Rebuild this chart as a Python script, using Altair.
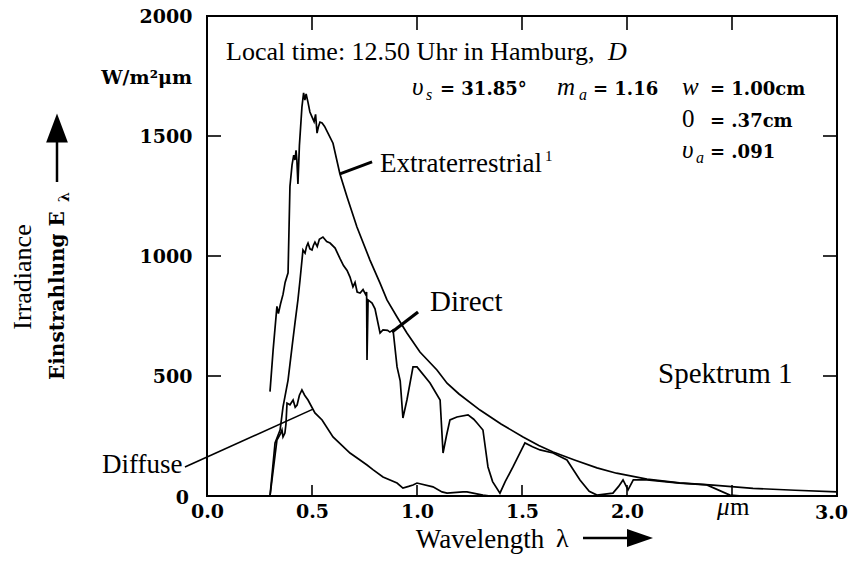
import altair as alt
import pandas as pd

SERIF = "Liberation Serif"
BOLD = "DejaVu Serif"

# ---------------- data ----------------
et_wl = [0.300,0.315,0.333,0.340,0.350,0.362,0.372,0.386,0.395,0.405,
         0.413,0.419,0.424,0.428,0.433,0.440,0.452,0.460,0.466,0.472,
         0.481,0.490,0.500,0.510,0.517,0.524,0.531,0.538,0.548,0.560,
         0.576,0.600,0.633,0.667,0.714,0.776,0.824,0.857,0.905,0.952,
         1.014,1.095,1.143,1.200,1.300,1.400,1.505,1.580,1.648,1.750,
         1.857,1.950,2.095,2.250,2.410,2.600,2.800,3.000]
et_E = [435,610,790,760,800,840,890,930,1290,1380,
        1420,1400,1440,1400,1300,1460,1620,1680,1650,1675,
        1640,1600,1580,1560,1590,1512,1540,1558,1554,1540,
        1512,1470,1342,1246,1121,983,887,817,746,679,
        600,525,470,425,358,300,246,210,183,150,
        117,95,70,55,45,32,24,17]

dir_wl = [0.300,0.324,0.348,0.362,0.386,0.405,0.419,0.433,0.443,0.457,
          0.467,0.474,0.481,0.490,0.500,0.507,0.514,0.525,0.535,0.552,
          0.570,0.586,0.610,0.633,0.650,0.667,0.681,0.695,0.705,0.715,
          0.729,0.743,0.755,0.760,0.762,0.767,0.786,0.800,0.824,0.838,
          0.860,0.871,0.886,0.905,0.920,0.933,0.952,0.981,1.000,1.062,
          1.110,1.124,1.140,1.157,1.190,1.243,1.270,1.286,1.314,1.338,
          1.360,1.395,1.420,1.457,1.514,1.550,1.586,1.648,1.714,1.776,
          1.820,1.857,1.933,1.960,1.981,2.005,2.030,2.095,2.250,2.380,
          2.490,2.550]
dir_E = [0,221,275,371,483,621,721,817,900,1025,
         1012,1040,1054,1030,1025,1045,1058,1040,1070,1079,
         1060,1054,1033,990,960,940,912,871,890,850,
         846,860,840,850,567,817,804,780,679,692,
         690,683,692,538,480,325,400,538,538,471,
         400,179,250,317,329,338,320,304,275,121,
         60,12,60,121,221,205,192,179,150,67,
         20,4,12,40,67,25,67,67,54,46,
         4,0]

dif_wl = [0.300,0.333,0.350,0.357,0.362,0.371,0.376,0.381,0.395,0.410,
          0.420,0.429,0.440,0.452,0.465,0.481,0.514,0.548,0.600,0.681,
          0.720,0.762,0.790,0.838,0.905,0.933,0.960,0.981,1.000,1.076,
          1.119,1.143,1.219,1.238,1.314,1.350]
dif_E = [0,233,260,275,246,262,300,387,380,400,
         370,379,420,442,420,400,346,317,246,179,
         155,129,110,79,54,33,40,46,54,38,
         17,12,17,17,4,0]

# leader lines (wavelength, irradiance)
lead_et_wl = [0.633, 0.786]
lead_et_E = [1342, 1392]
lead_dir_wl = [0.881, 1.005]
lead_dir_E = [683, 767]
lead_dif_wl = [-0.105, 0.505]
lead_dif_E = [121, 362]

x_ticks = [0.5, 1.0, 1.5, 2.0, 2.5]
y_ticks = [500, 1000, 1500]
x_labels = [0.0, 0.5, 1.0, 1.5, 2.0]
y_labels = [500, 1000, 1500, 2000]

W, H = 630, 480

xs = alt.Scale(domain=[0, 3], nice=False, zero=False)
ys = alt.Scale(domain=[0, 2000], nice=False)
xaxis = alt.Axis(values=x_labels, format=".1f",
                 ticks=False, domain=False, grid=False, title=None,
                 labelFont=BOLD, labelFontWeight="bold", labelFontSize=19,
                 labelColor="black", labelPadding=6, labelFlush=False,
                 labelOverlap=False)
yaxis = alt.Axis(values=y_labels, format="d", ticks=False, domain=False,
                 grid=False, title=None, labelFont=BOLD, labelFontWeight="bold",
                 labelFontSize=19, labelColor="black", labelPadding=15,
                 labelOverlap=False)

X = alt.X("wl:Q", scale=xs, axis=xaxis)
Y = alt.Y("E:Q", scale=ys, axis=yaxis)


def series(wl, E, sw=1.7):
    df = pd.DataFrame({"wl": wl, "E": E})
    return alt.Chart(df).mark_line(color="black", strokeWidth=sw).encode(x=X, y=Y)


one = pd.DataFrame({"k": [0]})


def T(s, x, y, size, font=SERIF, style="normal", weight="normal", angle=0,
      align="left", baseline="alphabetic"):
    return alt.Chart(one).mark_text(
        text=s, font=font, fontSize=size, fontStyle=style, fontWeight=weight,
        angle=angle, align=align, baseline=baseline, color="black"
    ).encode(x=alt.value(x), y=alt.value(y))


layers = []
layers.append(series(et_wl, et_E))
layers.append(series(dir_wl, dir_E))
layers.append(series(dif_wl, dif_E))
layers.append(series(lead_et_wl, lead_et_E, 3))
layers.append(series(lead_dir_wl, lead_dir_E, 3.2))
layers.append(series(lead_dif_wl, lead_dif_E, 1.6))

# inward ticks
xt = pd.DataFrame({"wl": x_ticks})
yt = pd.DataFrame({"E": y_ticks})
layers.append(alt.Chart(xt).mark_rule(color="black", strokeWidth=1.6).encode(
    x=X, y=alt.value(0), y2=alt.value(14)))
layers.append(alt.Chart(xt).mark_rule(color="black", strokeWidth=1.6).encode(
    x=X, y=alt.value(H - 11), y2=alt.value(H)))
layers.append(alt.Chart(yt).mark_rule(color="black", strokeWidth=1.6).encode(
    y=Y, x=alt.value(0), x2=alt.value(14)))
layers.append(alt.Chart(yt).mark_rule(color="black", strokeWidth=1.6).encode(
    y=Y, x=alt.value(W - 14), x2=alt.value(W)))

# special axis labels
layers.append(T("0", -18, 482, 19, font=BOLD, weight="bold", align="right",
                baseline="middle"))
layers.append(T("3.0", 641, 503, 19, font=BOLD, weight="bold", align="right"))
layers.append(T("μ", 510, 499, 25, style="italic"))
layers.append(T("m", 523, 499, 25))

# header annotations
layers.append(T("Local time: 12.50 Uhr in Hamburg,", 19, 44, 26))
layers.append(T("D", 401, 44, 26, style="italic"))

layers.append(T("υ", 205, 79, 25, style="italic"))
layers.append(T("s", 219, 84, 16, style="italic"))
layers.append(T("= 31.85°", 233, 79, 18, font=BOLD, weight="bold"))
layers.append(T("m", 350, 79, 25, style="italic"))
layers.append(T("a", 372, 84, 16, style="italic"))
layers.append(T("= 1.16", 386, 79, 18, font=BOLD, weight="bold"))
layers.append(T("w", 475, 79, 25, style="italic"))
layers.append(T("= 1.00cm", 503, 79, 18, font=BOLD, weight="bold"))
layers.append(T("0", 475, 111, 25))
layers.append(T("=  .37cm", 503, 111, 18, font=BOLD, weight="bold"))
layers.append(T("υ", 475, 142, 25, style="italic"))
layers.append(T("a", 489, 147, 16, style="italic"))
layers.append(T("=  .091", 503, 142, 18, font=BOLD, weight="bold"))

# curve labels
layers.append(T("Extraterrestrial", 173, 156, 27))
layers.append(T("1", 338, 145, 15))
layers.append(T("Direct", 223, 295, 29))
layers.append(T("Spektrum 1", 451, 367, 29))
layers.append(T("Diffuse", -105, 457, 27))

# axis titles
layers.append(T("W/m²μm", -15, 62, 19, font=BOLD, weight="bold", align="right",
                baseline="middle"))
layers.append(T("Irradiance", -184, 261, 26, angle=270, align="center",
                baseline="middle"))
layers.append(T("Einstrahlung E", -149, 364, 20, font=BOLD, weight="bold",
                angle=270, align="left", baseline="middle"))
layers.append(T("λ", -142, 186, 14, font=BOLD, weight="bold", angle=270,
                align="left", baseline="middle"))
layers.append(T("Wavelength", 273, 532, 27, align="center"))
layers.append(T("λ", 349, 531, 26))

# arrows
layers.append(alt.Chart(one).mark_rule(color="black", strokeWidth=2.5).encode(
    x=alt.value(-150), y=alt.value(115), y2=alt.value(166)))
layers.append(alt.Chart(one).mark_point(
    shape="M0,-1L0.75,1L-0.75,1Z", size=841, filled=True, color="black",
    opacity=1, strokeWidth=0).encode(x=alt.value(-150), y=alt.value(112)))
layers.append(alt.Chart(one).mark_rule(color="black", strokeWidth=2.5).encode(
    y=alt.value(522), x=alt.value(376), x2=alt.value(425)))
layers.append(alt.Chart(one).mark_point(
    shape="M1,0L-1,-0.7L-1,0.7Z", size=676, filled=True, color="black",
    opacity=1, strokeWidth=0).encode(x=alt.value(433), y=alt.value(522)))

chart = alt.layer(*layers).properties(
    width=W, height=H,
    autosize=alt.AutoSizeParams(type="none"),
    padding={"left": 199, "top": 8, "right": 11, "bottom": 58},
    background="white",
).configure_view(stroke="black", strokeWidth=2)

chart.save("out.html", embed_options={"renderer": "svg", "actions": False})
